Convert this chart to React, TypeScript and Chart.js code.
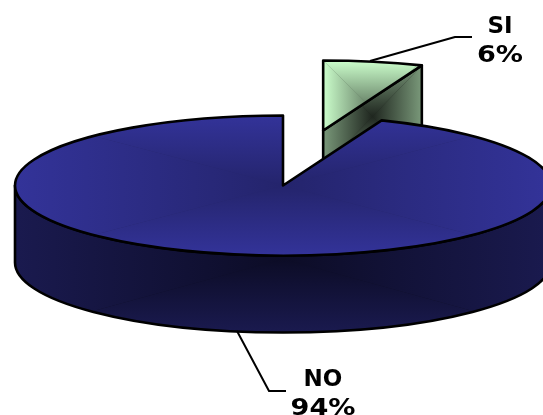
import React, { useEffect, useRef } from "react";
import { Chart, registerables } from "chart.js";

Chart.register(...registerables);

const categories = ["SI", "NO"];
const shares = [6, 94];

type Shade = { edge: string; core: string };
const topShades: Shade[] = [
  { edge: "#ccffcc", core: "#5f775f" },
  { edge: "#333399", core: "#24246c" },
];
const wallShades: Shade[] = [
  { edge: "#7a997a", core: "#1f261f" },
  { edge: "#1a1a4f", core: "#0c0c26" },
];

// Projection of the flat pie onto a tilted disc.
const RX = 268;
const RY = 70;
const DEPTH = 77;
const PULL = [0.8, 0];
const OUTLINE = 2.6;

// Rectangular path gradient: every side of the box fades to the box centre.
function pathGradient(ctx: CanvasRenderingContext2D, x0: number, y0: number, x1: number, y1: number, s: Shade) {
  const cx = (x0 + x1) / 2;
  const cy = (y0 + y1) / 2;
  ctx.fillStyle = s.core;
  ctx.fillRect(x0, y0, x1 - x0, y1 - y0);
  const sides: [number, number, number, number, number, number][] = [
    [x0, y0, x1, y0, cx, y0],
    [x1, y0, x1, y1, x1, cy],
    [x1, y1, x0, y1, cx, y1],
    [x0, y1, x0, y0, x0, cy],
  ];
  for (const [ax, ay, bx, by, mx, my] of sides) {
    const g = ctx.createLinearGradient(mx, my, cx, cy);
    g.addColorStop(0, s.edge);
    g.addColorStop(1, s.core);
    ctx.fillStyle = g;
    ctx.beginPath();
    ctx.moveTo(ax, ay);
    ctx.lineTo(bx, by);
    ctx.lineTo(cx, cy);
    ctx.closePath();
    ctx.fill();
  }
}

function shadeAndStroke(ctx: CanvasRenderingContext2D, path: () => void, box: number[], s: Shade) {
  ctx.save();
  path();
  ctx.clip();
  pathGradient(ctx, box[0], box[1], box[2], box[3], s);
  ctx.restore();
  path();
  ctx.lineWidth = OUTLINE;
  ctx.strokeStyle = "#000";
  ctx.lineJoin = "round";
  ctx.stroke();
}

function drawSlice(ctx: CanvasRenderingContext2D, arc: any, i: number) {
  const { startAngle: a0, endAngle: a1, x, y } = arc;
  const mid = (a0 + a1) / 2;
  const cx = x + RX * Math.cos(mid) * PULL[i];
  const cy = y + RY * Math.sin(mid) * PULL[i];
  const ex = cx + RX * Math.cos(a1);
  const ey = cy + RY * Math.sin(a1);

  const top = () => {
    ctx.beginPath();
    ctx.moveTo(cx, cy);
    ctx.ellipse(cx, cy, RX, RY, 0, a0, a1);
    ctx.closePath();
  };

  if (PULL[i] > 0) {
    // Cut face seen between the lifted slice and the rest of the pie.
    const wall = () => {
      ctx.beginPath();
      ctx.moveTo(cx, cy);
      ctx.lineTo(ex, ey);
      ctx.lineTo(ex, ey + DEPTH);
      ctx.lineTo(cx, cy + DEPTH);
      ctx.closePath();
    };
    shadeAndStroke(ctx, wall, [cx, ey, ex, ey + DEPTH + 25], wallShades[i]);
    shadeAndStroke(ctx, top, [cx, cy - RY, ex, cy + 27], topShades[i]);
    return;
  }

  // Front rim of the disc, then its top face.
  const rim = () => {
    ctx.beginPath();
    ctx.ellipse(cx, cy, RX, RY, 0, 0, Math.PI);
    ctx.lineTo(cx - RX, cy + DEPTH);
    ctx.ellipse(cx, cy + DEPTH, RX, RY, 0, Math.PI, 0, true);
    ctx.closePath();
  };
  shadeAndStroke(ctx, rim, [cx - RX, cy, cx + RX, cy + RY + DEPTH], wallShades[i]);
  shadeAndStroke(ctx, top, [cx - RX, cy - RY, cx + RX, cy + RY], topShades[i]);
}

function drawCallout(ctx: CanvasRenderingContext2D, pts: number[][], tx: number, ty: number, i: number) {
  ctx.beginPath();
  pts.forEach(([px, py], k) => (k ? ctx.lineTo(px, py) : ctx.moveTo(px, py)));
  ctx.lineWidth = 2;
  ctx.strokeStyle = "#000";
  ctx.stroke();
  ctx.fillStyle = "#000";
  ctx.textAlign = "center";
  ctx.textBaseline = "alphabetic";
  ctx.font = "bold 23px 'DejaVu Sans'";
  ctx.fillText(categories[i], tx, ty);
  ctx.save();
  ctx.translate(tx, ty + 29);
  ctx.scale(1.18, 1);
  ctx.fillText(`${shares[i]}%`, 0, 0);
  ctx.restore();
}

const tiltedPie = {
  id: "tiltedPie",
  beforeDatasetsDraw(chart: any) {
    const ctx: CanvasRenderingContext2D = chart.ctx;
    const arcs = chart.getDatasetMeta(0).data;
    ctx.save();
    arcs.forEach((arc: any, i: number) => drawSlice(ctx, arc, i));
    drawCallout(ctx, [[370, 61], [455, 37], [472, 37]], 500, 33, 0);
    drawCallout(ctx, [[237, 331], [269, 391], [286, 391]], 323, 386, 1);
    ctx.restore();
    return false;
  },
};

export default function App() {
  const ref = useRef<HTMLCanvasElement>(null);
  useEffect(() => {
    document.body.style.margin = "0";
    const chart = new Chart(ref.current!, {
      type: "pie",
      data: { labels: categories, datasets: [{ data: shares }] },
      options: {
        animation: false,
        responsive: false,
        rotation: 0,
        layout: { padding: { left: 23, bottom: 44 } },
        plugins: { legend: { display: false }, tooltip: { enabled: false } },
      },
      plugins: [tiltedPie],
    });
    return () => chart.destroy();
  }, []);
  return <canvas ref={ref} width={543} height={415} style={{ display: "block" }} />;
}
